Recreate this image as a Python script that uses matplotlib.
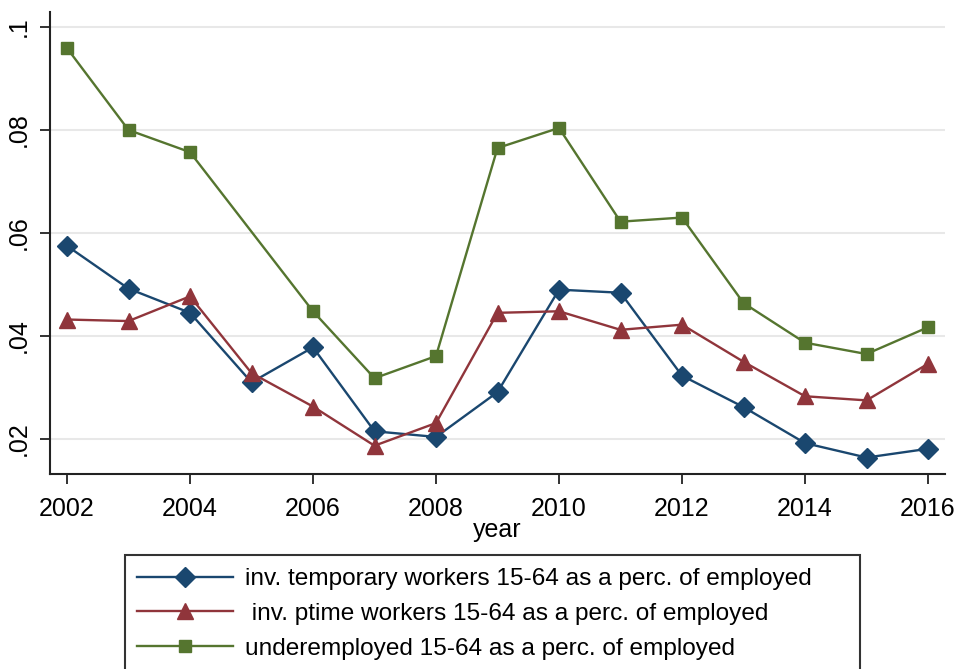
import numpy as np
import matplotlib
matplotlib.use('Agg')
import matplotlib.pyplot as plt
from matplotlib.patches import Rectangle

## Datos
years = [2002, 2003, 2004, 2005, 2006, 2007, 2008, 2009, 2010, 2011, 2012, 2013, 2014, 2015, 2016]
temp_workers = [0.0575, 0.0492, 0.0445, 0.0310, 0.0378, 0.0215, 0.0204, 0.0291, 0.0490, 0.0484,
                0.0323, 0.0262, 0.0192, 0.0164, 0.0181]
ptime_workers = [0.0432, 0.0429, 0.0477, 0.0328, 0.0263, 0.0187, 0.0231, 0.0445, 0.0448, 0.0412,
                 0.0422, 0.0350, 0.0283, 0.0275, 0.0346]
# sin dato en 2005 para subempleados
years_under = [2002, 2003, 2004, 2006, 2007, 2008, 2009, 2010, 2011, 2012, 2013, 2014, 2015, 2016]
underemployed = [0.0959, 0.0800, 0.0757, 0.0448, 0.0318, 0.0361, 0.0765, 0.0804, 0.0622, 0.0630,
                 0.0464, 0.0387, 0.0365, 0.0417]

labels = ['inv. temporary workers 15-64 as a perc. of employed',
          ' inv. ptime workers 15-64 as a perc. of employed',
          'underemployed 15-64 as a perc. of employed']
xticks = [2002, 2004, 2006, 2008, 2010, 2012, 2014, 2016]
yticks = [0.02, 0.04, 0.06, 0.08, 0.1]
ytick_labels = ['.02', '.04', '.06', '.08', '.1']

## Colores estilo Stata s2color
navy = '#1a476f'
maroon = '#90353b'
green = '#55752f'

plt.rcParams['font.family'] = ['Liberation Sans', 'DejaVu Sans']

W, H = 960, 669
fig = plt.figure(figsize=(W/100, H/100), dpi=100)
fig.patch.set_facecolor('white')

# ejes en pixeles: x 50..945, y 12..474
ax = fig.add_axes([50/W, 1-474/H, (945-50)/W, (474-12)/H])

l1, = ax.plot(years, temp_workers, color=navy, lw=1.7, marker='D', ms=10.5,
              mfc=navy, mec=navy, mew=1, zorder=3)
l2, = ax.plot(years, ptime_workers, color=maroon, lw=1.7, marker='^', ms=12,
              mfc=maroon, mec=maroon, mew=1, zorder=3)
l3, = ax.plot(years_under, underemployed, color=green, lw=1.7, marker='s', ms=9,
              mfc=green, mec=green, mew=1, zorder=3)

ax.set_xlim(2002 - 17/61.5, 2016 + 17/61.5)
ax.set_ylim(0.1 - 447/5150, 0.1 + 15/5150)

ax.set_xticks(xticks)
ax.set_xticklabels([str(x) for x in xticks], fontsize=18)
ax.set_yticks(yticks)
ax.set_yticklabels(ytick_labels, fontsize=18, rotation=90, va='center')
ax.tick_params(axis='both', direction='out', length=7.5, width=1.3, color='#222222')
ax.tick_params(axis='x', pad=9)
ax.tick_params(axis='y', pad=6)
ax.grid(axis='y', color='#e8e8e8', lw=1.5, zorder=0)
ax.set_axisbelow(True)

for s in ['top', 'right']:
    ax.spines[s].set_visible(False)
for s in ['left', 'bottom']:
    ax.spines[s].set_linewidth(1.5)
    ax.spines[s].set_color('#222222')

ax.set_xlabel('year', fontsize=18, labelpad=-2)

## Leyenda
fig.add_artist(Rectangle((125/W, -0.05), (860-125)/W, 1-555/H+0.05, transform=fig.transFigure,
                         fill=False, ec='#333333', lw=1.5))
fig.legend([l1, l2, l3], labels, loc='upper left', bbox_to_anchor=(137/W, 1-568/H),
           frameon=False, fontsize=17.6, handlelength=3.93, handletextpad=0.5,
           labelspacing=0.52, borderpad=0, borderaxespad=0)

fig.savefig('out.png', dpi=100)
